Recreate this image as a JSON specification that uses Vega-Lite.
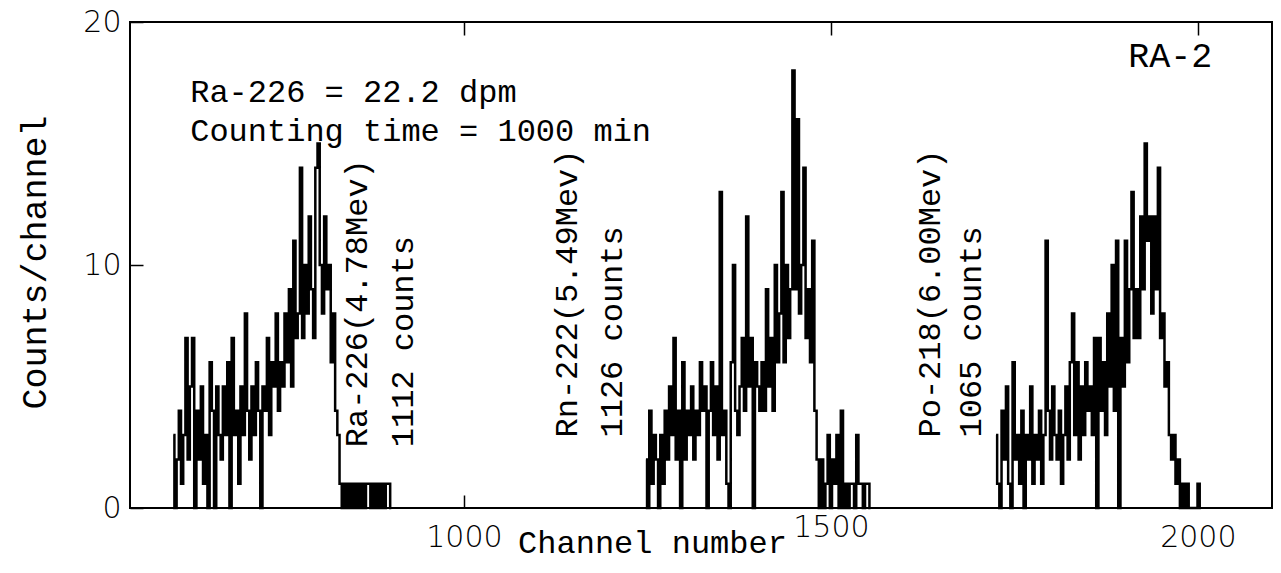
{
  "$schema": "https://vega.github.io/schema/vega-lite/v6.json",
  "width": 1142,
  "height": 486,
  "autosize": "none",
  "padding": {"left": 130, "top": 22, "right": 9, "bottom": 65},
  "background": "white",
  "config": {
    "view": {"stroke": "black", "strokeWidth": 2},
    "axis": {"grid": false, "domain": false, "tickColor": "black", "tickWidth": 1.5, "labelColor": "black", "titleColor": "black"},
    "text": {"font": "Liberation Mono", "fontSize": 32, "color": "black"}
  },
  "datasets": {
    "spec": [
      {"ch":604,"n":3,"p":"a"},{"ch":607,"n":0,"p":"a"},{"ch":610,"n":2,"p":"a"},{"ch":613,"n":4,"p":"a"},{"ch":616,"n":1,"p":"a"},{"ch":619,"n":3,"p":"a"},{"ch":622,"n":7,"p":"a"},{"ch":625,"n":2,"p":"a"},{"ch":628,"n":5,"p":"a"},{"ch":631,"n":7,"p":"a"},{"ch":634,"n":0,"p":"a"},{"ch":637,"n":4,"p":"a"},{"ch":640,"n":2,"p":"a"},{"ch":643,"n":5,"p":"a"},{"ch":646,"n":1,"p":"a"},{"ch":649,"n":3,"p":"a"},{"ch":652,"n":0,"p":"a"},{"ch":655,"n":6,"p":"a"},{"ch":658,"n":4,"p":"a"},{"ch":661,"n":0,"p":"a"},{"ch":664,"n":5,"p":"a"},{"ch":667,"n":3,"p":"a"},{"ch":670,"n":2,"p":"a"},{"ch":673,"n":5,"p":"a"},{"ch":676,"n":3,"p":"a"},{"ch":679,"n":6,"p":"a"},{"ch":682,"n":0,"p":"a"},{"ch":685,"n":7,"p":"a"},{"ch":688,"n":3,"p":"a"},{"ch":691,"n":4,"p":"a"},{"ch":694,"n":1,"p":"a"},{"ch":697,"n":5,"p":"a"},{"ch":700,"n":3,"p":"a"},{"ch":703,"n":8,"p":"a"},{"ch":706,"n":4,"p":"a"},{"ch":709,"n":2,"p":"a"},{"ch":712,"n":5,"p":"a"},{"ch":715,"n":3,"p":"a"},{"ch":718,"n":6,"p":"a"},{"ch":721,"n":4,"p":"a"},{"ch":724,"n":0,"p":"a"},{"ch":727,"n":5,"p":"a"},{"ch":730,"n":4,"p":"a"},{"ch":733,"n":7,"p":"a"},{"ch":736,"n":3,"p":"a"},{"ch":739,"n":6,"p":"a"},{"ch":742,"n":5,"p":"a"},{"ch":745,"n":8,"p":"a"},{"ch":748,"n":4,"p":"a"},{"ch":751,"n":6,"p":"a"},{"ch":754,"n":5,"p":"a"},{"ch":757,"n":8,"p":"a"},{"ch":760,"n":6,"p":"a"},{"ch":763,"n":9,"p":"a"},{"ch":766,"n":5,"p":"a"},{"ch":769,"n":11,"p":"a"},{"ch":772,"n":7,"p":"a"},{"ch":775,"n":8,"p":"a"},{"ch":778,"n":14,"p":"a"},{"ch":781,"n":7,"p":"a"},{"ch":784,"n":10,"p":"a"},{"ch":787,"n":8,"p":"a"},{"ch":790,"n":12,"p":"a"},{"ch":793,"n":9,"p":"a"},{"ch":796,"n":7,"p":"a"},{"ch":799,"n":14,"p":"a"},{"ch":802,"n":15,"p":"a"},{"ch":805,"n":10,"p":"a"},{"ch":808,"n":8,"p":"a"},{"ch":811,"n":12,"p":"a"},{"ch":814,"n":9,"p":"a"},{"ch":817,"n":10,"p":"a"},{"ch":820,"n":6,"p":"a"},{"ch":823,"n":8,"p":"a"},{"ch":826,"n":4,"p":"a"},{"ch":829,"n":3,"p":"a"},{"ch":832,"n":1,"p":"a"},{"ch":835,"n":0,"p":"a"},{"ch":838,"n":1,"p":"a"},{"ch":841,"n":0,"p":"a"},{"ch":844,"n":1,"p":"a"},{"ch":847,"n":0,"p":"a"},{"ch":850,"n":1,"p":"a"},{"ch":853,"n":0,"p":"a"},{"ch":856,"n":1,"p":"a"},{"ch":859,"n":0,"p":"a"},{"ch":862,"n":1,"p":"a"},{"ch":865,"n":0,"p":"a"},{"ch":868,"n":1,"p":"a"},{"ch":871,"n":1,"p":"a"},{"ch":874,"n":0,"p":"a"},{"ch":877,"n":1,"p":"a"},{"ch":880,"n":0,"p":"a"},{"ch":883,"n":1,"p":"a"},{"ch":886,"n":0,"p":"a"},{"ch":889,"n":1,"p":"a"},{"ch":892,"n":0,"p":"a"},{"ch":895,"n":1,"p":"a"},{"ch":898,"n":1,"p":"a"},{"ch":901,"n":0,"p":"a"},
      {"ch":1248,"n":2,"p":"b"},{"ch":1251,"n":0,"p":"b"},{"ch":1254,"n":4,"p":"b"},{"ch":1257,"n":1,"p":"b"},{"ch":1260,"n":3,"p":"b"},{"ch":1263,"n":2,"p":"b"},{"ch":1266,"n":0,"p":"b"},{"ch":1269,"n":3,"p":"b"},{"ch":1272,"n":1,"p":"b"},{"ch":1275,"n":4,"p":"b"},{"ch":1278,"n":2,"p":"b"},{"ch":1281,"n":5,"p":"b"},{"ch":1284,"n":3,"p":"b"},{"ch":1287,"n":7,"p":"b"},{"ch":1290,"n":2,"p":"b"},{"ch":1293,"n":4,"p":"b"},{"ch":1296,"n":0,"p":"b"},{"ch":1299,"n":6,"p":"b"},{"ch":1302,"n":2,"p":"b"},{"ch":1305,"n":4,"p":"b"},{"ch":1308,"n":3,"p":"b"},{"ch":1311,"n":5,"p":"b"},{"ch":1314,"n":2,"p":"b"},{"ch":1317,"n":4,"p":"b"},{"ch":1320,"n":3,"p":"b"},{"ch":1323,"n":6,"p":"b"},{"ch":1326,"n":4,"p":"b"},{"ch":1329,"n":5,"p":"b"},{"ch":1332,"n":0,"p":"b"},{"ch":1335,"n":4,"p":"b"},{"ch":1338,"n":6,"p":"b"},{"ch":1341,"n":3,"p":"b"},{"ch":1344,"n":5,"p":"b"},{"ch":1347,"n":2,"p":"b"},{"ch":1350,"n":13,"p":"b"},{"ch":1353,"n":3,"p":"b"},{"ch":1356,"n":4,"p":"b"},{"ch":1359,"n":1,"p":"b"},{"ch":1362,"n":0,"p":"b"},{"ch":1365,"n":6,"p":"b"},{"ch":1368,"n":10,"p":"b"},{"ch":1371,"n":4,"p":"b"},{"ch":1374,"n":3,"p":"b"},{"ch":1377,"n":5,"p":"b"},{"ch":1380,"n":7,"p":"b"},{"ch":1383,"n":4,"p":"b"},{"ch":1386,"n":12,"p":"b"},{"ch":1389,"n":5,"p":"b"},{"ch":1392,"n":7,"p":"b"},{"ch":1395,"n":0,"p":"b"},{"ch":1398,"n":6,"p":"b"},{"ch":1401,"n":5,"p":"b"},{"ch":1404,"n":4,"p":"b"},{"ch":1407,"n":6,"p":"b"},{"ch":1410,"n":4,"p":"b"},{"ch":1413,"n":9,"p":"b"},{"ch":1416,"n":5,"p":"b"},{"ch":1419,"n":7,"p":"b"},{"ch":1422,"n":4,"p":"b"},{"ch":1425,"n":10,"p":"b"},{"ch":1428,"n":6,"p":"b"},{"ch":1431,"n":8,"p":"b"},{"ch":1434,"n":13,"p":"b"},{"ch":1437,"n":6,"p":"b"},{"ch":1440,"n":10,"p":"b"},{"ch":1443,"n":7,"p":"b"},{"ch":1446,"n":9,"p":"b"},{"ch":1449,"n":18,"p":"b"},{"ch":1452,"n":9,"p":"b"},{"ch":1455,"n":16,"p":"b"},{"ch":1458,"n":8,"p":"b"},{"ch":1461,"n":10,"p":"b"},{"ch":1464,"n":14,"p":"b"},{"ch":1467,"n":7,"p":"b"},{"ch":1470,"n":9,"p":"b"},{"ch":1473,"n":6,"p":"b"},{"ch":1476,"n":11,"p":"b"},{"ch":1479,"n":4,"p":"b"},{"ch":1482,"n":2,"p":"b"},{"ch":1485,"n":0,"p":"b"},{"ch":1488,"n":2,"p":"b"},{"ch":1491,"n":0,"p":"b"},{"ch":1494,"n":1,"p":"b"},{"ch":1497,"n":3,"p":"b"},{"ch":1500,"n":0,"p":"b"},{"ch":1503,"n":2,"p":"b"},{"ch":1506,"n":1,"p":"b"},{"ch":1509,"n":3,"p":"b"},{"ch":1512,"n":0,"p":"b"},{"ch":1515,"n":4,"p":"b"},{"ch":1518,"n":0,"p":"b"},{"ch":1521,"n":1,"p":"b"},{"ch":1524,"n":0,"p":"b"},{"ch":1527,"n":1,"p":"b"},{"ch":1530,"n":1,"p":"b"},{"ch":1533,"n":0,"p":"b"},{"ch":1536,"n":3,"p":"b"},{"ch":1539,"n":1,"p":"b"},{"ch":1542,"n":1,"p":"b"},{"ch":1545,"n":0,"p":"b"},{"ch":1548,"n":1,"p":"b"},{"ch":1551,"n":1,"p":"b"},{"ch":1554,"n":0,"p":"b"},
      {"ch":1725,"n":3,"p":"c"},{"ch":1728,"n":1,"p":"c"},{"ch":1731,"n":0,"p":"c"},{"ch":1734,"n":4,"p":"c"},{"ch":1737,"n":2,"p":"c"},{"ch":1740,"n":5,"p":"c"},{"ch":1743,"n":1,"p":"c"},{"ch":1746,"n":0,"p":"c"},{"ch":1749,"n":6,"p":"c"},{"ch":1752,"n":2,"p":"c"},{"ch":1755,"n":3,"p":"c"},{"ch":1758,"n":1,"p":"c"},{"ch":1761,"n":4,"p":"c"},{"ch":1764,"n":0,"p":"c"},{"ch":1767,"n":3,"p":"c"},{"ch":1770,"n":2,"p":"c"},{"ch":1773,"n":5,"p":"c"},{"ch":1776,"n":1,"p":"c"},{"ch":1779,"n":3,"p":"c"},{"ch":1782,"n":2,"p":"c"},{"ch":1785,"n":4,"p":"c"},{"ch":1788,"n":1,"p":"c"},{"ch":1791,"n":3,"p":"c"},{"ch":1794,"n":11,"p":"c"},{"ch":1797,"n":4,"p":"c"},{"ch":1800,"n":2,"p":"c"},{"ch":1803,"n":5,"p":"c"},{"ch":1806,"n":3,"p":"c"},{"ch":1809,"n":2,"p":"c"},{"ch":1812,"n":4,"p":"c"},{"ch":1815,"n":1,"p":"c"},{"ch":1818,"n":3,"p":"c"},{"ch":1821,"n":5,"p":"c"},{"ch":1824,"n":2,"p":"c"},{"ch":1827,"n":6,"p":"c"},{"ch":1830,"n":8,"p":"c"},{"ch":1833,"n":3,"p":"c"},{"ch":1836,"n":6,"p":"c"},{"ch":1839,"n":2,"p":"c"},{"ch":1842,"n":5,"p":"c"},{"ch":1845,"n":3,"p":"c"},{"ch":1848,"n":6,"p":"c"},{"ch":1851,"n":4,"p":"c"},{"ch":1854,"n":5,"p":"c"},{"ch":1857,"n":3,"p":"c"},{"ch":1860,"n":7,"p":"c"},{"ch":1863,"n":0,"p":"c"},{"ch":1866,"n":7,"p":"c"},{"ch":1869,"n":4,"p":"c"},{"ch":1872,"n":6,"p":"c"},{"ch":1875,"n":3,"p":"c"},{"ch":1878,"n":8,"p":"c"},{"ch":1881,"n":5,"p":"c"},{"ch":1884,"n":10,"p":"c"},{"ch":1887,"n":4,"p":"c"},{"ch":1890,"n":11,"p":"c"},{"ch":1893,"n":0,"p":"c"},{"ch":1896,"n":7,"p":"c"},{"ch":1899,"n":5,"p":"c"},{"ch":1902,"n":11,"p":"c"},{"ch":1905,"n":6,"p":"c"},{"ch":1908,"n":9,"p":"c"},{"ch":1911,"n":13,"p":"c"},{"ch":1914,"n":7,"p":"c"},{"ch":1917,"n":9,"p":"c"},{"ch":1920,"n":7,"p":"c"},{"ch":1923,"n":12,"p":"c"},{"ch":1926,"n":9,"p":"c"},{"ch":1929,"n":15,"p":"c"},{"ch":1932,"n":11,"p":"c"},{"ch":1935,"n":12,"p":"c"},{"ch":1938,"n":8,"p":"c"},{"ch":1941,"n":12,"p":"c"},{"ch":1944,"n":9,"p":"c"},{"ch":1947,"n":14,"p":"c"},{"ch":1950,"n":7,"p":"c"},{"ch":1953,"n":8,"p":"c"},{"ch":1956,"n":5,"p":"c"},{"ch":1959,"n":6,"p":"c"},{"ch":1962,"n":3,"p":"c"},{"ch":1965,"n":2,"p":"c"},{"ch":1968,"n":3,"p":"c"},{"ch":1971,"n":1,"p":"c"},{"ch":1974,"n":2,"p":"c"},{"ch":1977,"n":0,"p":"c"},{"ch":1980,"n":1,"p":"c"},{"ch":1983,"n":0,"p":"c"},{"ch":1986,"n":1,"p":"c"},{"ch":1989,"n":0,"p":"c"},{"ch":1992,"n":0,"p":"c"},{"ch":1995,"n":0,"p":"c"},{"ch":1998,"n":0,"p":"c"},{"ch":2001,"n":1,"p":"c"},{"ch":2004,"n":0,"p":"c"}
    ]
  },
  "resolve": {"axis": {"x": "independent", "y": "independent"}},
  "layer": [
    {
      "data": {"name": "spec"},
      "mark": {"type": "line", "interpolate": "step", "color": "black", "strokeWidth": 2.5},
      "encoding": {
        "x": {
          "field": "ch", "type": "quantitative",
          "scale": {"domain": [545, 2101], "nice": false, "zero": false},
          "axis": {
            "orient": "bottom", "values": [1000, 1500, 2000], "tickSize": -13, "format": "d",
            "labelFont": "DejaVu Sans", "labelFontSize": 30, "labelFontWeight": 300,
            "labelBaseline": "top",
            "labelPadding": {"condition": {"test": "datum.value == 1500", "value": 17}, "value": 27},
            "title": "Channel number", "titleFont": "Liberation Mono", "titleFontSize": 32, "titleFontWeight": "normal",
            "titleBaseline": "alphabetic", "titleX": 522, "titleY": 44
          }
        },
        "y": {
          "field": "n", "type": "quantitative",
          "scale": {"domain": [0, 20], "nice": false},
          "axis": {
            "orient": "left", "values": [0, 10, 20], "tickSize": -13, "format": "d",
            "labelFont": "DejaVu Sans", "labelFontSize": 30, "labelFontWeight": 300,
            "labelBaseline": "middle", "labelPadding": 22,
            "title": "Counts/channel", "titleFont": "Liberation Mono", "titleFontSize": 35, "titleFontWeight": "normal",
            "titleAngle": -90, "titleBaseline": "alphabetic", "titleAlign": "center", "titleX": -85, "titleY": 240
          }
        },
        "detail": {"field": "p"}
      }
    },
    {
      "data": {"values": [{}]},
      "mark": {"type": "text", "align": "left", "baseline": "alphabetic"},
      "encoding": {
        "x": {"datum": 627, "type": "quantitative", "axis": {"orient": "top", "values": [1000, 1500, 2000], "tickSize": -13, "labels": false, "title": null}},
        "y": {"datum": 16.7, "type": "quantitative", "axis": null},
        "text": {"value": "Ra-226 = 22.2 dpm"}
      }
    },
    {
      "data": {"values": [{}]},
      "mark": {"type": "text", "align": "left", "baseline": "alphabetic"},
      "encoding": {
        "x": {"datum": 627, "type": "quantitative", "axis": null},
        "y": {"datum": 15.1, "type": "quantitative", "axis": null},
        "text": {"value": "Counting time = 1000 min"}
      }
    },
    {
      "data": {"values": [{}]},
      "mark": {"type": "text", "align": "left", "baseline": "alphabetic", "fontSize": 35},
      "encoding": {
        "x": {"datum": 1905, "type": "quantitative", "axis": null},
        "y": {"datum": 18.15, "type": "quantitative", "axis": null},
        "text": {"value": "RA-2"}
      }
    },
    {
      "data": {"values": [{}]},
      "mark": {"type": "text", "align": "left", "baseline": "alphabetic", "angle": 270, "fontSize": 32},
      "encoding": {
        "x": {"datum": 868, "type": "quantitative", "axis": null},
        "y": {"datum": 2.5, "type": "quantitative", "axis": null},
        "text": {"value": "Ra-226(4.78Mev)"}
      }
    },
    {
      "data": {"values": [{}]},
      "mark": {"type": "text", "align": "left", "baseline": "alphabetic", "angle": 270, "fontSize": 32},
      "encoding": {
        "x": {"datum": 931, "type": "quantitative", "axis": null},
        "y": {"datum": 2.5, "type": "quantitative", "axis": null},
        "text": {"value": "1112 counts"}
      }
    },
    {
      "data": {"values": [{}]},
      "mark": {"type": "text", "align": "left", "baseline": "alphabetic", "angle": 270, "fontSize": 32},
      "encoding": {
        "x": {"datum": 1154, "type": "quantitative", "axis": null},
        "y": {"datum": 2.9, "type": "quantitative", "axis": null},
        "text": {"value": "Rn-222(5.49Mev)"}
      }
    },
    {
      "data": {"values": [{}]},
      "mark": {"type": "text", "align": "left", "baseline": "alphabetic", "angle": 270, "fontSize": 32},
      "encoding": {
        "x": {"datum": 1216, "type": "quantitative", "axis": null},
        "y": {"datum": 2.9, "type": "quantitative", "axis": null},
        "text": {"value": "1126 counts"}
      }
    },
    {
      "data": {"values": [{}]},
      "mark": {"type": "text", "align": "left", "baseline": "alphabetic", "angle": 270, "fontSize": 32},
      "encoding": {
        "x": {"datum": 1648, "type": "quantitative", "axis": null},
        "y": {"datum": 2.9, "type": "quantitative", "axis": null},
        "text": {"value": "Po-218(6.00Mev)"}
      }
    },
    {
      "data": {"values": [{}]},
      "mark": {"type": "text", "align": "left", "baseline": "alphabetic", "angle": 270, "fontSize": 32},
      "encoding": {
        "x": {"datum": 1705, "type": "quantitative", "axis": null},
        "y": {"datum": 2.9, "type": "quantitative", "axis": null},
        "text": {"value": "1065 counts"}
      }
    }
  ]
}
